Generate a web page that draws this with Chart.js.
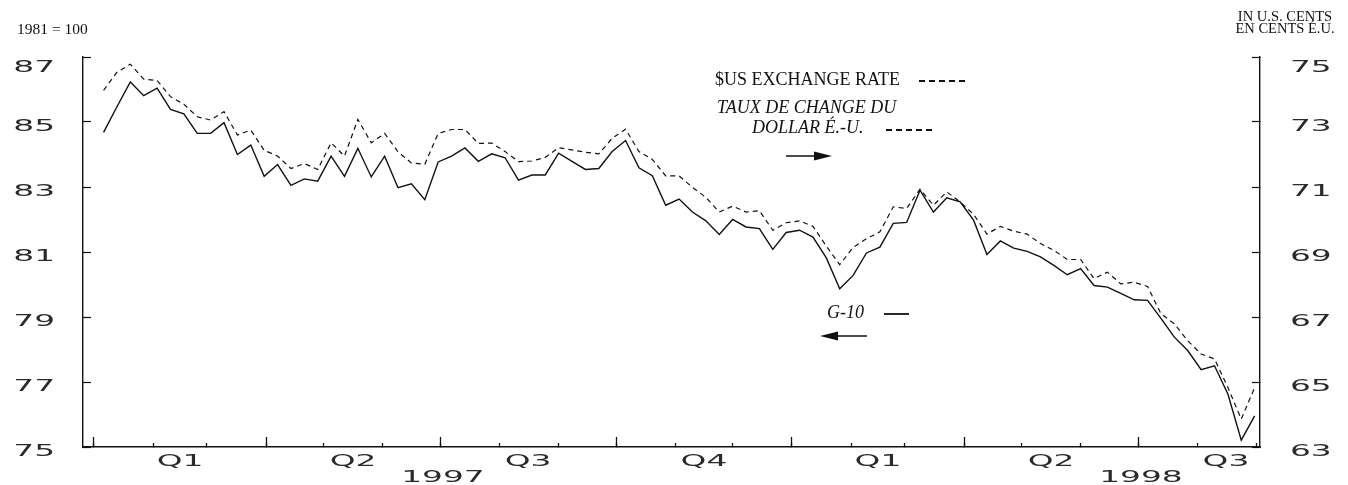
<!DOCTYPE html>
<html>
<head>
<meta charset="utf-8">
<script src="https://cdn.jsdelivr.net/npm/chart.js@4.4.0/dist/chart.umd.min.js"></script>
<style>
html, body { margin: 0; padding: 0; background: #fff; }
#wrap { width: 1348px; height: 485px; }
</style>
</head>
<body>
<div id="wrap"><canvas id="grafico"></canvas></div>
<script>
// === Données hebdomadaires (janv. 1997 - août 1998) ===
var g10 = [84.68, 85.47, 86.23, 85.81, 86.04, 85.39, 85.25, 84.65, 84.65, 84.98,
  84.00, 84.29, 83.33, 83.69, 83.05, 83.25, 83.18, 83.95, 83.33, 84.19,
  83.31, 83.95, 82.98, 83.10, 82.61, 83.77, 83.95, 84.20, 83.79, 84.02,
  83.90, 83.21, 83.37, 83.37, 84.04, 83.79, 83.54, 83.57, 84.09, 84.43,
  83.59, 83.35, 82.44, 82.63, 82.23, 81.96, 81.54, 82.00, 81.77, 81.72,
  81.08, 81.60, 81.67, 81.46, 80.82, 79.87, 80.28, 80.97, 81.15, 81.88,
  81.91, 82.90, 82.23, 82.67, 82.54, 81.98, 80.92, 81.34, 81.12, 81.02,
  80.85, 80.59, 80.30, 80.49, 79.97, 79.92, 79.73, 79.53, 79.51, 78.96,
  78.38, 77.97, 77.38, 77.50, 76.63, 75.21, 75.96];

var usd = [73.97, 74.53, 74.78, 74.32, 74.28, 73.78, 73.55, 73.16, 73.06, 73.32,
  72.60, 72.75, 72.13, 71.95, 71.57, 71.72, 71.54, 72.36, 71.95, 73.08,
  72.36, 72.65, 72.08, 71.74, 71.70, 72.65, 72.77, 72.77, 72.34, 72.35,
  72.09, 71.78, 71.80, 71.91, 72.21, 72.14, 72.07, 72.02, 72.50, 72.78,
  72.09, 71.85, 71.34, 71.34, 70.99, 70.68, 70.23, 70.41, 70.23, 70.27,
  69.67, 69.90, 69.96, 69.79, 69.18, 68.61, 69.14, 69.41, 69.62, 70.39,
  70.34, 70.93, 70.44, 70.85, 70.54, 70.16, 69.55, 69.79, 69.64, 69.55,
  69.26, 69.05, 68.77, 68.77, 68.18, 68.38, 68.02, 68.07, 67.94, 67.10,
  66.79, 66.27, 65.86, 65.71, 64.83, 63.86, 64.83];

var quarterLabels = ['Q1', 'Q2', 'Q3', 'Q4', 'Q1', 'Q2', 'Q3'];
var yearLabels = ['1997', '1998'];

// jours depuis le 1er janvier 1997
function jour(a, m, j) {
  return (Date.UTC(a, m, j) - Date.UTC(1997, 0, 1)) / 86400000;
}
var premier = jour(1997, 0, 6);
var semaines = g10.map(function (v, i) { return premier + 7 * i; });

var debutsMois = [];
for (var k = 0; k <= 20; k++) debutsMois.push(jour(1997, k, 1));
var debutsTrim = debutsMois.filter(function (d, k) { return k % 3 === 0; });
var milieuxTrim = quarterLabels.map(function (q, k) {
  return (jour(1997, 3 * k, 1) + jour(1997, 3 * k + 3, 1)) / 2;
});
var milieuxAns = yearLabels.map(function (a, k) {
  return (jour(1997 + k, 0, 1) + jour(1998 + k, 0, 1)) / 2;
});

function pts(vals) {
  return vals.map(function (v, i) { return { x: semaines[i], y: v }; });
}

// texte étiré horizontalement (police large des axes)
function texteLarge(ctx, txt, x, y, align) {
  ctx.save();
  ctx.translate(x, y);
  ctx.scale(2.05, 1);
  ctx.font = '16px "DejaVu Sans"';
  ctx.fillStyle = '#2a2a2a';
  ctx.textAlign = align;
  ctx.textBaseline = 'alphabetic';
  ctx.fillText(txt, 0, 0);
  ctx.restore();
}

function fleche(ctx, x1, x2, y) {
  var dir = x2 > x1 ? 1 : -1;
  ctx.save();
  ctx.strokeStyle = '#111';
  ctx.fillStyle = '#111';
  ctx.lineWidth = 1.5;
  ctx.beginPath();
  ctx.moveTo(x1, y);
  ctx.lineTo(x2 - dir * 16, y);
  ctx.stroke();
  ctx.beginPath();
  ctx.moveTo(x2, y);
  ctx.lineTo(x2 - dir * 18, y - 4.5);
  ctx.lineTo(x2 - dir * 18, y + 4.5);
  ctx.closePath();
  ctx.fill();
  ctx.restore();
}

function trait(ctx, x1, x2, y, dash) {
  ctx.save();
  ctx.strokeStyle = '#111';
  ctx.lineWidth = 1.8;
  ctx.setLineDash(dash);
  ctx.beginPath();
  ctx.moveTo(x1, y);
  ctx.lineTo(x2, y);
  ctx.stroke();
  ctx.restore();
}

var annotations = {
  id: 'annotations',
  afterDraw: function (chart) {
    var ctx = chart.ctx;
    var sx = chart.scales.x, yL = chart.scales.yL, yR = chart.scales.yR;

    yL.ticks.forEach(function (t) {
      var dy = t.value === yL.max ? 15 : 9;
      texteLarge(ctx, String(t.value), 55, yL.getPixelForValue(t.value) + dy, 'right');
    });
    yR.ticks.forEach(function (t) {
      var dy = t.value === yR.max ? 15 : 9;
      texteLarge(ctx, String(t.value), 1290, yR.getPixelForValue(t.value) + dy, 'left');
    });
    milieuxTrim.forEach(function (d, k) {
      texteLarge(ctx, quarterLabels[k], sx.getPixelForValue(d), 466, 'center');
    });
    milieuxAns.forEach(function (d, k) {
      texteLarge(ctx, yearLabels[k], sx.getPixelForValue(d), 482, 'center');
    });

    ctx.save();
    ctx.fillStyle = '#111';
    ctx.textBaseline = 'middle';
    ctx.font = '15.5px "Liberation Serif"';
    ctx.textAlign = 'left';
    ctx.fillText('1981 = 100', 17, 30);
    ctx.font = '14.5px "Liberation Serif"';
    ctx.textAlign = 'center';
    ctx.fillText('IN U.S. CENTS', 1285, 17.5);
    ctx.fillText('EN CENTS É.U.', 1285, 29);

    ctx.textAlign = 'left';
    ctx.font = '18px "Liberation Serif"';
    ctx.fillText('$US EXCHANGE RATE', 715, 80);
    ctx.font = 'italic 18px "Liberation Serif"';
    ctx.fillText('TAUX DE CHANGE DU', 717, 108);
    ctx.fillText('DOLLAR É.-U.', 752, 128);
    ctx.fillText('G-10', 827, 313);
    ctx.restore();

    trait(ctx, 919, 968, 81, [6, 4]);
    trait(ctx, 886, 936, 130, [6, 4]);
    trait(ctx, 884, 909, 314, []);
    fleche(ctx, 786, 832, 156);
    fleche(ctx, 867, 820, 336);
  }
};

new Chart(document.getElementById('grafico'), {
  type: 'line',
  data: {
    datasets: [{
      label: 'G-10',
      data: pts(g10),
      yAxisID: 'yL',
      borderColor: '#111',
      borderWidth: 1.4,
      pointRadius: 0,
      tension: 0
    }, {
      label: '$US',
      data: pts(usd),
      yAxisID: 'yR',
      borderColor: '#111',
      borderWidth: 1.2,
      borderDash: [5, 4],
      pointRadius: 0,
      tension: 0
    }]
  },
  options: {
    responsive: true,
    maintainAspectRatio: false,
    animation: false,
    layout: { padding: { top: 57, left: 0, right: 0, bottom: 0 } },
    plugins: { legend: { display: false }, tooltip: { enabled: false } },
    scales: {
      xq: {
        type: 'linear', position: 'bottom', weight: 0,
        min: -5.75, max: 609.8,
        afterBuildTicks: function (s) { s.ticks = debutsTrim.map(function (v) { return { value: v }; }); },
        afterFit: function (s) { s.height = 0; },
        ticks: { display: false },
        border: { display: false },
        grid: { drawOnChartArea: false, tickLength: -10, tickColor: '#111', tickWidth: 1.3 }
      },
      x: {
        type: 'linear', position: 'bottom', weight: 1,
        min: -5.75, max: 609.8,
        afterBuildTicks: function (s) { s.ticks = debutsMois.map(function (v) { return { value: v }; }); },
        afterFit: function (s) { s.height = 38; },
        ticks: { display: false },
        border: { display: true, color: '#111', width: 1.4 },
        grid: { drawOnChartArea: false, tickLength: -4, tickColor: '#111', tickWidth: 1.3 }
      },
      yL: {
        position: 'left', min: 75, max: 87,
        ticks: { stepSize: 2, display: false },
        afterFit: function (s) { s.width = 83; },
        border: { display: true, color: '#111', width: 1.4 },
        grid: { drawOnChartArea: false, tickLength: -8, tickColor: '#111', tickWidth: 1.2 }
      },
      yR: {
        position: 'right', min: 63, max: 75,
        ticks: { stepSize: 2, display: false },
        afterFit: function (s) { s.width = 88; },
        border: { display: true, color: '#111', width: 1.4 },
        grid: { drawOnChartArea: false, tickLength: -8, tickColor: '#111', tickWidth: 1.2 }
      }
    }
  },
  plugins: [annotations]
});
</script>
</body>
</html>
